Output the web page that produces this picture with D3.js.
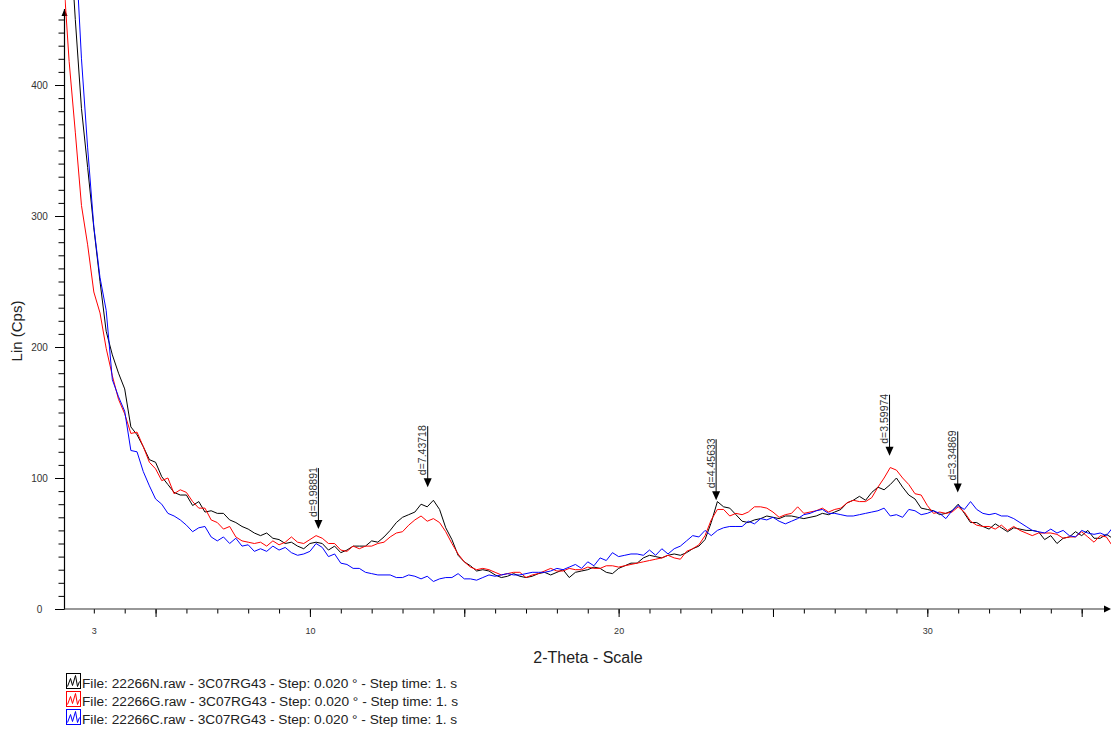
<!DOCTYPE html>
<html>
<head>
<meta charset="utf-8">
<script src="https://cdn.jsdelivr.net/npm/d3@7"></script>
<style>
  body { margin: 0; background: #ffffff; }
  svg { display: block; font-family: "Liberation Sans", Arial, sans-serif; }
</style>
</head>
<body>
<svg id="chart" width="1111" height="731"></svg>
<script>
// Scan grid: 2-theta (degrees) of the first value and spacing between values
const twoThetaStart = 2.0;
const twoThetaStep = 0.2;

// Intensities (Lin, counts per second) for each scan, one value per grid step
const counts22266N = [
  610, 525, 450, 382, 337, 291, 250, 212, 194, 180,
  168, 139, 133, 124, 114, 112, 101, 95, 89, 87,
  87, 79, 82, 74, 75, 73, 73, 68, 66, 63,
  61, 58, 56, 58, 54, 53, 50, 51, 48, 46,
  50, 51, 50, 45, 48, 43, 45, 48, 48, 48,
  52, 51, 55, 60, 66, 70, 72, 74, 80, 78,
  83, 76, 62, 53, 41, 36, 33, 29, 30, 29,
  26, 24, 25, 27, 25, 24, 25, 27, 28, 26,
  28, 30, 24, 28, 29, 30, 32, 31, 28, 27,
  31, 33, 35, 35, 39, 41, 40, 39, 41, 42,
  41, 43, 46, 48, 53, 66, 82, 78, 77, 72,
  67, 66, 68, 69, 71, 70, 69, 71, 71, 70,
  69, 70, 71, 73, 72, 74, 76, 81, 83, 86,
  83, 89, 93, 91, 95, 100, 93, 87, 84, 77,
  76, 75, 72, 73, 75, 80, 73, 66, 66, 63,
  61, 65, 62, 59, 62, 61, 60, 60, 59, 53,
  56, 50, 54, 55, 59, 56, 60, 54, 54, 57,
  54
];
const counts22266G = [
  490, 418, 364, 308, 278, 242, 226, 199, 178, 160,
  149, 134, 135, 124, 112, 107, 98, 100, 88, 91,
  89, 82, 77, 77, 68, 66, 61, 63, 55, 52,
  51, 50, 51, 48, 52, 49, 51, 55, 51, 50,
  53, 56, 54, 50, 50, 45, 44, 48, 46, 48,
  48, 50, 51, 55, 58, 59, 64, 68, 71, 67,
  69, 66, 59, 50, 42, 36, 32, 30, 31, 30,
  28, 26, 27, 28, 28, 24, 26, 27, 29, 31,
  29, 29, 31, 30, 30, 32, 31, 31, 33, 33,
  32, 33, 34, 35, 36, 37, 38, 39, 41, 39,
  38, 44, 46, 49, 56, 68, 76, 76, 71, 73,
  72, 74, 78, 78, 77, 74, 70, 72, 73, 78,
  73, 74, 75, 77, 74, 76, 77, 81, 83, 82,
  82, 85, 93, 100, 108, 106, 100, 95, 88, 87,
  79, 73, 74, 73, 74, 78, 74, 67, 64, 63,
  63, 61, 64, 60, 63, 60, 58, 56, 58, 58,
  58, 57, 54, 55, 55, 59, 55, 51, 56, 55,
  48
];
const counts22266C = [
  700, 610, 510, 420, 352, 292, 253, 228, 175, 162,
  151, 121, 120, 105, 94, 84, 80, 73, 71, 68,
  64, 59, 62, 63, 55, 52, 55, 50, 54, 48,
  49, 44, 46, 44, 48, 45, 47, 43, 41, 42,
  44, 50, 47, 40, 42, 35, 34, 31, 31, 28,
  27, 26, 26, 26, 24, 24, 26, 25, 23, 25,
  21, 23, 24, 24, 27, 23, 23, 22, 24, 26,
  25, 26, 27, 26, 26, 27, 28, 28, 28, 29,
  31, 30, 32, 34, 31, 36, 33, 39, 37, 43,
  40, 41, 42, 42, 41, 45, 41, 46, 42, 46,
  48, 52, 56, 55, 60, 56, 60, 62, 63, 63,
  63, 67, 65, 69, 68, 70, 67, 65, 67, 69,
  72, 73, 75, 76, 73, 73, 72, 71, 71, 72,
  73, 74, 75, 77, 71, 72, 70, 76, 75, 72,
  73, 75, 73, 69, 75, 79, 76, 82, 76, 73,
  72, 73, 71, 71, 69, 66, 63, 60, 59, 58,
  61, 58, 60, 56, 55, 60, 58, 57, 58, 56,
  62
];

const legendLabels = [
  "File: 22266N.raw - 3C07RG43 - Step: 0.020 ° - Step time: 1. s",
  "File: 22266G.raw - 3C07RG43 - Step: 0.020 ° - Step time: 1. s",
  "File: 22266C.raw - 3C07RG43 - Step: 0.020 ° - Step time: 1. s"
];
const seriesColors = ["#000000", "#ff0000", "#0000ff"];

// Marked reflections: d-spacing (Å) and the intensity level of each arrow tip
const peakDSpacings = [9.98891, 7.43718, 4.45633, 3.59974, 3.34869];
const peakMarkerCps = [61, 93, 83, 117, 89];
const wavelengthCoKa1 = 1.78897;

const xTickLabels = [3, 10, 20, 30];
const yTickLabels = [0, 100, 200, 300, 400];

const svg = d3.select("#chart");
const W = 1111, H = 731;
const plotLeft = 64.5, plotRight = 1111, plotBottom = 609, plotTop = 6.4;

const x = d3.scaleLinear().domain([2.05, 35.95]).range([plotLeft, plotRight]);
const y = d3.scaleLinear().domain([0, 460]).range([plotBottom, plotTop]);

svg.append("rect").attr("width", W).attr("height", H).attr("fill", "#fff");

svg.append("defs").append("clipPath").attr("id", "plotClip")
  .append("rect").attr("x", plotLeft).attr("y", 0)
  .attr("width", plotRight - plotLeft).attr("height", plotBottom);

// Y axis: minor ticks every 10, major every 100
const yMinor = svg.append("g").attr("transform", `translate(${plotLeft},0)`)
  .call(d3.axisLeft(y).tickValues(d3.range(10, 451, 10)).tickSize(6).tickFormat(""));
const yMajor = svg.append("g").attr("transform", `translate(${plotLeft},0)`)
  .call(d3.axisLeft(y).tickValues(yTickLabels).tickSize(9.5).tickPadding(0).tickFormat(d3.format("d")));
[yMinor, yMajor].forEach(g => {
  g.select(".domain").remove();
  g.selectAll(".tick line").attr("stroke", "#000").attr("stroke-width", 1);
});
yMajor.selectAll(".tick text")
  .attr("x", -25).attr("text-anchor", "middle").attr("dy", "0.35em")
  .attr("font-size", 10).attr("fill", "#333");

// X axis: minor ticks every degree, longer ticks every 5 degrees
const xMinor = svg.append("g").attr("transform", `translate(0,${plotBottom})`)
  .call(d3.axisBottom(x).tickValues(d3.range(3, 36, 1)).tickSize(4.5).tickFormat(""));
const xMajor = svg.append("g").attr("transform", `translate(0,${plotBottom})`)
  .call(d3.axisBottom(x).tickValues(d3.range(5, 36, 5)).tickSize(8).tickFormat(""));
const xLabels = svg.append("g").attr("transform", `translate(0,${plotBottom})`)
  .call(d3.axisBottom(x).tickValues(xTickLabels).tickSize(0).tickPadding(19).tickFormat(d3.format("d")));
[xMinor, xMajor, xLabels].forEach(g => {
  g.select(".domain").remove();
  g.selectAll(".tick line").attr("stroke", "#000").attr("stroke-width", 1);
});
xLabels.selectAll(".tick text").attr("font-size", 9).attr("fill", "#333");

// Axis lines with arrowheads
svg.append("line").attr("x1", plotLeft).attr("x2", plotLeft).attr("y1", plotBottom + 0.5).attr("y2", 9)
  .attr("stroke", "#000").attr("stroke-width", 1.2);
svg.append("path").attr("d", `M${plotLeft - 3},16 L${plotLeft + 3},16 L${plotLeft},9 Z`).attr("fill", "#000");
svg.append("line").attr("x1", plotLeft).attr("x2", plotRight - 2).attr("y1", plotBottom).attr("y2", plotBottom)
  .attr("stroke", "#333").attr("stroke-width", 1.2);
svg.append("path")
  .attr("d", `M${plotRight - 7},${plotBottom - 3.5} L${plotRight - 7},${plotBottom + 3.5} L${plotRight},${plotBottom} Z`)
  .attr("fill", "#000");

// Axis titles
svg.append("text").attr("x", 588).attr("y", 663).attr("text-anchor", "middle")
  .attr("font-size", 16).attr("fill", "#222").text("2-Theta - Scale");
svg.append("text").attr("transform", "translate(22,331) rotate(-90)").attr("text-anchor", "middle")
  .attr("font-size", 15).attr("fill", "#222").text("Lin (Cps)");

// Diffraction patterns
const series = [counts22266N, counts22266G, counts22266C];
const line = d3.line()
  .x((d, i) => x(twoThetaStart + i * twoThetaStep))
  .y(d => y(d));
const plot = svg.append("g").attr("clip-path", "url(#plotClip)");
series.forEach((vals, k) => {
  plot.append("path").datum(vals)
    .attr("fill", "none").attr("stroke", seriesColors[k]).attr("stroke-width", 1)
    .attr("stroke-linejoin", "round").attr("d", line);
});

// Peak markers: 2-theta from Bragg's law with the Co K-alpha1 wavelength
const toDeg = 180 / Math.PI;
peakDSpacings.forEach((d, i) => {
  const tt = 2 * Math.asin(wavelengthCoKa1 / (2 * d)) * toDeg;
  const px = x(tt);
  const tip = y(peakMarkerCps[i]);
  const g = svg.append("g");
  g.append("line").attr("x1", px).attr("x2", px).attr("y1", tip - 61).attr("y2", tip - 8)
    .attr("stroke", "#000").attr("stroke-width", 1);
  g.append("path").attr("d", `M${px - 4},${tip - 9} L${px + 4},${tip - 9} L${px},${tip} Z`).attr("fill", "#000");
  g.append("text")
    .attr("transform", `translate(${px - 1.5},${tip - 12}) rotate(-90)`)
    .attr("font-size", 10.5).attr("fill", "#333").text("d=" + d.toFixed(5));
});

// Legend
legendLabels.forEach((label, i) => {
  const base = 688 + i * 18;
  const ix = 66.5, iy = base - 14.5;
  const g = svg.append("g");
  g.append("rect").attr("x", ix).attr("y", iy).attr("width", 14).attr("height", 15)
    .attr("fill", "none").attr("stroke", seriesColors[i]).attr("stroke-width", 1);
  g.append("path")
    .attr("d", `M${ix + 1},${iy + 13} L${ix + 4},${iy + 5} L${ix + 6},${iy + 12} L${ix + 9},${iy + 2} L${ix + 11},${iy + 13} L${ix + 13},${iy + 8}`)
    .attr("fill", "none").attr("stroke", seriesColors[i]).attr("stroke-width", 1);
  g.append("text").attr("x", 82).attr("y", base).attr("font-size", 13.7).attr("fill", "#222").text(label);
});
</script>
</body>
</html>
